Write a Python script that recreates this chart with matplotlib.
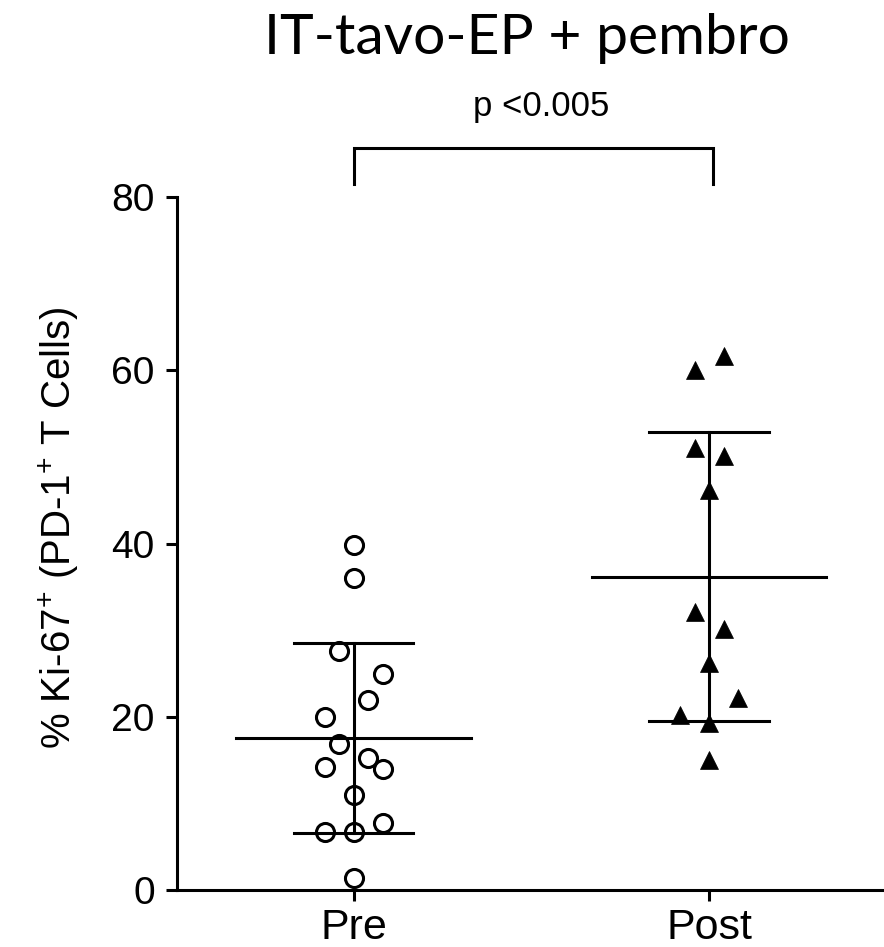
import numpy as np
import matplotlib
matplotlib.use("Agg")
import matplotlib.pyplot as plt

# values (% Ki-67+ of PD-1+ T cells)
groups = ["Pre", "Post"]
pre_values = [39.8, 36.0, 27.6, 24.9, 21.9, 20.0, 16.8, 15.2, 14.2, 14.0, 11.0, 6.7, 6.7, 7.7, 1.35]
post_values = [61.6, 60.0, 51.0, 50.1, 46.2, 32.1, 30.1, 26.2, 22.2, 20.2, 19.3, 15.0]
y_ticks = [0, 20, 40, 60, 80]
title = "IT-tavo-EP + pembro"
p_label = "p <0.005"
y_label = r"% Ki-67$^{+}$ (PD-1$^{+}$ T Cells)"

# scatter column slots, like the prism layout
pre_slots = [0, 0, -1, 2, 1, -2, -1, 1, -2, 2, 0, -2, 0, 2, 0]
post_slots = [1, -1, -1, 1, 0, -1, 1, 0, 2, -2, 0, 0]
SLOT = 0.0406
LW = 2.2

plt.rcParams["font.family"] = ["Liberation Sans", "DejaVu Sans"]
plt.rcParams["mathtext.fontset"] = "custom"
plt.rcParams["mathtext.rm"] = "Liberation Sans"

fig = plt.figure(figsize=(8.84, 9.47), dpi=100)
ax = fig.add_axes([177 / 884, 57 / 947, 1 - 177 / 884, 693 / 947])

for i, (vals, slots, marker) in enumerate(
    [(pre_values, pre_slots, "o"), (post_values, post_slots, "^")]
):
    xs = [i + s * SLOT for s in slots]
    if marker == "o":
        ax.plot(xs, vals, linestyle="none", marker="o", ms=13, mfc="none",
                mec="black", mew=LW, clip_on=False, zorder=3)
    else:
        ax.plot(xs, vals, linestyle="none", marker="^", ms=13, mfc="black",
                mec="black", mew=0.5, clip_on=False, zorder=3)
    mean = np.mean(vals)
    sd = np.std(vals, ddof=1)
    ax.plot([i - 0.33, i + 0.33], [mean, mean], color="black", lw=LW, zorder=4)
    ax.plot([i - 0.168, i + 0.168], [mean + sd, mean + sd], color="black", lw=LW, zorder=4)
    ax.plot([i - 0.168, i + 0.168], [mean - sd, mean - sd], color="black", lw=LW, zorder=4)
    ax.plot([i, i], [mean - sd, mean + sd], color="black", lw=LW, zorder=4)

# significance bracket
ax.plot([0, 0, 1.01, 1.01], [81.5, 85.7, 85.7, 81.5], color="black", lw=LW,
        clip_on=False, solid_joinstyle="miter")
ax.text(0.528, 90.4, p_label, ha="center", va="center", fontsize=25)

ax.set_xlim(-0.497, 1.492)
ax.set_ylim(0, 80)
ax.set_xticks([0, 1])
ax.set_xticklabels(groups, fontsize=31)
ax.set_yticks(y_ticks)
ax.set_yticklabels([str(t) for t in y_ticks], fontsize=28)

for side in ["top", "right"]:
    ax.spines[side].set_visible(False)
for side in ["left", "bottom"]:
    ax.spines[side].set_linewidth(LW)
ax.tick_params(axis="y", width=LW, length=8, pad=8)
ax.tick_params(axis="x", width=LW, length=8, pad=5)

fig.text(59 / 884, 1 - 528 / 947, y_label, rotation=90, ha="center",
         va="center", fontsize=29)
fig.text(527 / 884, 1 - 38 / 947, title, ha="center", va="center",
         fontsize=41, family=["Lato", "DejaVu Sans"])

fig.savefig("out.png", dpi=100)
